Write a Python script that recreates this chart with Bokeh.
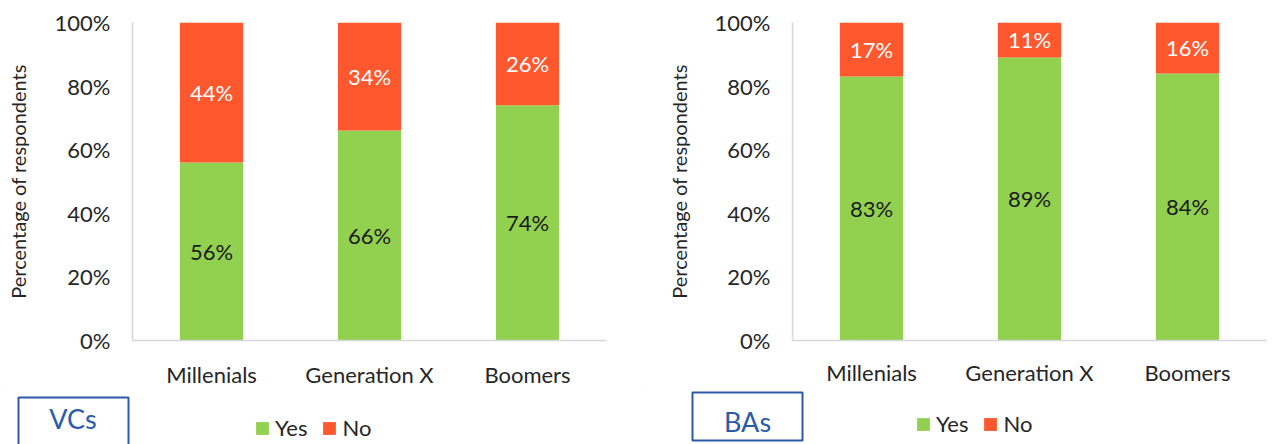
from bokeh.plotting import figure
from bokeh.models import (ColumnDataSource, FactorRange, Range1d, LabelSet, Label,
                          PrintfTickFormatter, FixedTicker, Legend, LegendItem)
from bokeh.layouts import row, column
from bokeh.core.properties import value
from bokeh.embed import file_html
from bokeh.resources import INLINE

categories = ["Millenials", "Generation X", "Boomers"]
series = ["Yes", "No"]
vc_yes = [56, 66, 74]
vc_no = [44, 34, 26]
ba_yes = [83, 89, 84]
ba_no = [17, 11, 16]
y_ticks = [0, 20, 40, 60, 80, 100]
panel_names = ["VCs", "BAs"]

GREEN = "#92D050"
RED = "#FF572E"
TXT = "#262626"
BLUE = "#2A5BA8"
FONT = "Lato"


def make_panel(yes, no, width, height, mbl, mbr, mbt, mbb, cat_standoff, title_standoff):
    src = ColumnDataSource(dict(cat=categories, Yes=yes, No=no,
                                yes_mid=[v / 2 for v in yes],
                                no_mid=[y + n / 2 for y, n in zip(yes, no)],
                                yes_txt=[f"{v}%" for v in yes],
                                no_txt=[f"{v}%" for v in no]))
    p = figure(x_range=FactorRange(*categories), y_range=Range1d(0, 100),
               width=width, height=height, output_backend="svg",
               toolbar_location=None, min_border_left=mbl, min_border_right=mbr,
               min_border_top=mbt, min_border_bottom=mbb)
    p.outline_line_color = None
    p.grid.visible = False

    p.vbar_stack(series, x="cat", width=0.4, color=[GREEN, RED],
                 line_color=None, source=src)

    p.add_layout(LabelSet(x="cat", y="yes_mid", text="yes_txt", source=src,
                          text_align="center", text_baseline="middle",
                          text_font=value(FONT), text_font_size="22px",
                          text_color="#1A1A1A"))
    p.add_layout(LabelSet(x="cat", y="no_mid", text="no_txt", source=src,
                          text_align="center", text_baseline="middle",
                          text_font=value(FONT), text_font_size="22px",
                          text_color="white"))

    for ax in (p.xaxis[0], p.yaxis[0]):
        ax.axis_line_color = "#D6D6D6"
        ax.axis_line_width = 1.5
        ax.major_tick_line_color = None
        ax.minor_tick_line_color = None
        ax.major_tick_in = 0
        ax.major_tick_out = 0
        ax.minor_tick_in = 0
        ax.minor_tick_out = 0
        ax.major_label_text_font = FONT
        ax.major_label_text_font_size = "22px"
        ax.major_label_text_color = TXT

    p.yaxis.ticker = FixedTicker(ticks=y_ticks)
    p.yaxis.formatter = PrintfTickFormatter(format="%d%%")
    p.yaxis.major_label_standoff = 22
    p.yaxis.axis_label = "Percentage of respondents"
    p.yaxis.axis_label_text_font = FONT
    p.yaxis.axis_label_text_font_style = "normal"
    p.yaxis.axis_label_text_font_size = "20px"
    p.yaxis.axis_label_text_color = TXT
    p.yaxis.axis_label_standoff = title_standoff
    p.xaxis.major_label_standoff = cat_standoff
    return p


def make_strip(name, width, height, box, text_xy, legend_loc):
    s = figure(width=width, height=height, x_range=Range1d(0, width),
               y_range=Range1d(height, 0), output_backend="svg",
               toolbar_location=None, min_border=0,
               x_axis_type=None, y_axis_type=None)
    s.outline_line_color = None
    s.grid.visible = False
    s.quad(left=[box[0]], right=[box[1]], top=[box[2]], bottom=[box[3]],
           fill_color=None, line_color=BLUE, line_width=2)
    s.add_layout(Label(x=text_xy[0], y=text_xy[1], text=name,
                       text_align="center", text_baseline="middle",
                       text_font=FONT, text_font_size="27px", text_color=BLUE))
    # legend swatches: renderers kept outside the visible area
    r_yes = s.vbar(x=[-100], top=[-100], bottom=[-110], width=1,
                   fill_color=GREEN, line_color=None)
    r_no = s.vbar(x=[-100], top=[-100], bottom=[-110], width=1,
                  fill_color=RED, line_color=None)
    leg = Legend(items=[LegendItem(label=series[0], renderers=[r_yes]),
                        LegendItem(label=series[1], renderers=[r_no])],
                 orientation="horizontal", location=legend_loc,
                 glyph_width=16, glyph_height=16, label_standoff=5, spacing=14,
                 padding=0, margin=0, border_line_color=None,
                 background_fill_alpha=0, label_text_font=FONT,
                 label_text_font_size="22px", label_text_color=TXT,
                 label_height=20)
    s.add_layout(leg, "center")
    return s


MAIN_H = 390
STRIP_H = 54

left = make_panel(vc_yes, vc_no, 640, MAIN_H, 132, 34, 22, MAIN_H - 344, 20, 22)
right = make_panel(ba_yes, ba_no, 632, MAIN_H, 152, 6, 22, MAIN_H - 340, 18, 21)

left_strip = make_strip(panel_names[0], 640, STRIP_H, (18, 128, 7, 60),
                        (72.5, 28), (254, 3))
right_strip = make_strip(panel_names[1], 632, STRIP_H, (52, 162, 2, 50),
                         (107, 31), (275, 7))

layout = column(row(left, right), row(left_strip, right_strip))
open("out.html", "w").write(file_html(layout, INLINE))
